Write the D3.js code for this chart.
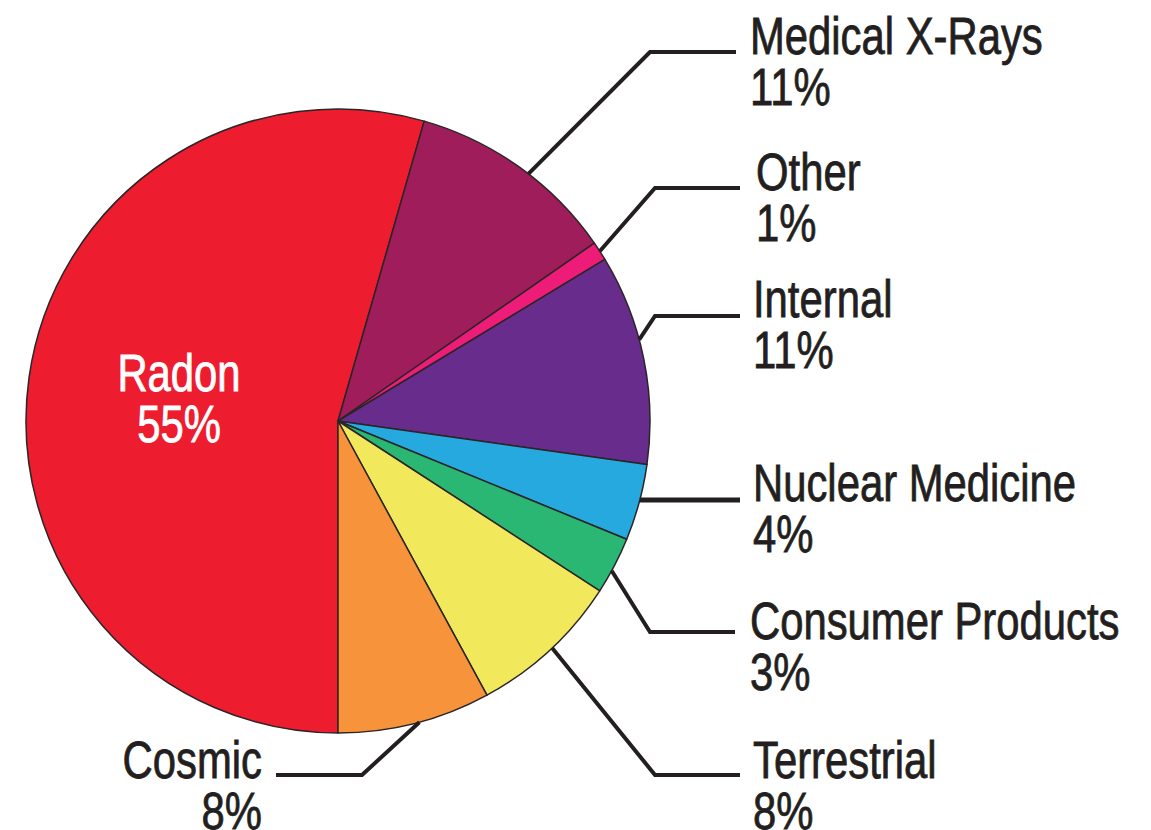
<!DOCTYPE html>
<html>
<head>
<meta charset="utf-8">
<script src="https://cdnjs.cloudflare.com/ajax/libs/d3/7.8.5/d3.min.js"></script>
<style>
  body { margin: 0; background: #fff; }
  text { font-family: "Liberation Sans", Arial, sans-serif; }
</style>
</head>
<body>
<div id="chart"></div>
<script>
//DATA
const categories = ["Radon", "Medical X-Rays", "Other", "Internal", "Nuclear Medicine", "Consumer Products", "Terrestrial", "Cosmic"];
const percents = [55, 11, 1, 11, 4, 3, 8, 8];
const colors = ["#ED1C2E", "#A01D5C", "#EC1C78", "#682D8C", "#25A9DF", "#2AB673", "#F2E85C", "#F7943B"];

//LAYOUT (label anchor, leader bend, leader end, where on the slice the leader starts)
const labelLayout = {
  "Medical X-Rays":    {x: 750, y: 54,  bend: [650, 52],  end: [736, 52],  t: 0.55, anchor: "start"},
  "Other":             {x: 756, y: 190, bend: [655, 188], end: [740, 188], t: 0.5,  anchor: "start"},
  "Internal":          {x: 753, y: 317, bend: [655, 316], end: [740, 316], t: 0.41, anchor: "start"},
  "Nuclear Medicine":  {x: 753, y: 501, bend: null,       end: [740, 500], t: 0.47, anchor: "start", w: 5},
  "Consumer Products": {x: 750, y: 639, bend: [650, 632], end: [735, 632], t: 0.6,  anchor: "start"},
  "Terrestrial":       {x: 753, y: 778, bend: [655, 775], end: [740, 775], t: 0.48, anchor: "start"},
  "Cosmic":            {x: 262, y: 778, bend: [362, 775], end: [276, 775], t: 0.47, anchor: "end"}
};

const width = 1151, height = 830;
const cx = 338, cy = 421, radius = 312;
const fontSize = 51, lineGap = 51;
const squeeze = 0.82; // condensed look from a regular face

const svg = d3.select("#chart")
  .append("svg")
  .attr("width", width)
  .attr("height", height);

const data = categories.map((c, i) => ({name: c, value: percents[i], color: colors[i]}));

//PIE
const pie = d3.pie()
  .sort(null)
  .value(d => d.value)
  .startAngle(Math.PI)
  .endAngle(3 * Math.PI);

const arcs = pie(data);
const arc = d3.arc().innerRadius(0).outerRadius(radius);

const g = svg.append("g").attr("transform", `translate(${cx},${cy})`);

g.selectAll("path")
  .data(arcs)
  .join("path")
  .attr("d", arc)
  .attr("fill", d => d.data.color)
  .attr("stroke", "#2b2527")
  .attr("stroke-width", 1.5)
  .attr("stroke-linejoin", "round");

//LEADER LINES
arcs.forEach(a => {
  const L = labelLayout[a.data.name];
  if (!L) return;
  const ang = a.startAngle + (a.endAngle - a.startAngle) * L.t;
  let start = [cx + radius * Math.sin(ang), cy - radius * Math.cos(ang)];
  if (!L.bend) start = [cx + Math.sqrt(radius * radius - (L.end[1] - cy) ** 2), L.end[1]];
  const pts = L.bend ? [start, L.bend, L.end] : [start, L.end];
  svg.append("path")
    .attr("d", d3.line()(pts))
    .attr("fill", "none")
    .attr("stroke", "#231f20")
    .attr("stroke-width", L.w || 4)
    .attr("stroke-linejoin", "miter");
});

//LABELS
function twoLineLabel(x, y, anchor, line1, line2, fill) {
  const t = svg.append("text")
    .attr("transform", `translate(${x},${y}) scale(${squeeze},1)`)
    .attr("text-anchor", anchor)
    .attr("font-size", fontSize + "px")
    .attr("fill", fill)
    .attr("stroke", fill)
    .attr("stroke-width", 0.8);
  t.append("tspan").attr("x", 0).text(line1);
  t.append("tspan").attr("x", 0).attr("dy", lineGap).text(line2);
}

arcs.forEach(a => {
  const L = labelLayout[a.data.name];
  if (!L) return;
  twoLineLabel(L.x, L.y, L.anchor, a.data.name, a.data.value + "%", "#231f20");
});

//RADON LABEL (inside)
const radon = arcs[0];
twoLineLabel(179, 391, "middle", radon.data.name, radon.data.value + "%", "#ffffff");
</script>
</body>
</html>
